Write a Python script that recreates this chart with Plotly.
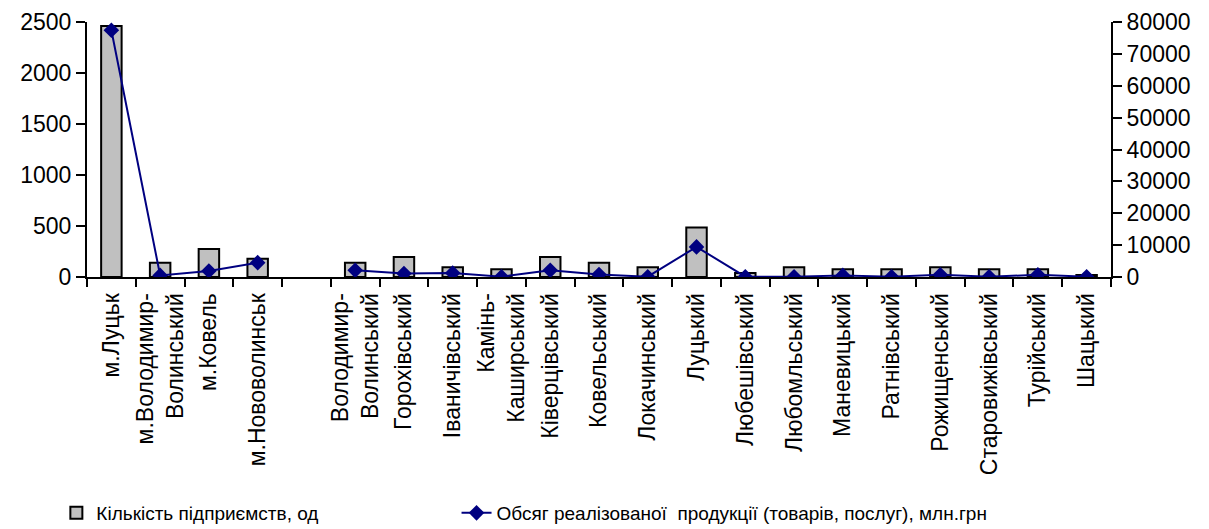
import plotly.graph_objects as go

categories = [
    "м.Луцьк", "м.Володимир-<br>Волинський", "м.Ковель", "м.Нововолинськ", " ",
    "Володимир-<br>Волинський", "Горохівський", "Іваничівський", "Камінь-<br>Каширський",
    "Ківерцівський", "Ковельський", "Локачинський", "Луцький", "Любешівський",
    "Любомльський", "Маневицький", "Ратнівський", "Рожищенський", "Старовижівський",
    "Турійський", "Шацький",
]
enterprises = [2460, 140, 275, 180, None, 140, 195, 95, 75, 195, 140, 95, 485, 40,
               95, 75, 75, 95, 75, 75, 20]
sales = [77400, 500, 1900, 4500, None, 2100, 1100, 1250, 100, 2100, 750, 100, 9450,
         100, 100, 500, 100, 700, 100, 700, 100]

left_ticks = [0, 500, 1000, 1500, 2000, 2500]
right_ticks = [0, 10000, 20000, 30000, 40000, 50000, 60000, 70000, 80000]

font_main = "Liberation Sans, Arial, sans-serif"

fig = go.Figure()
fig.add_trace(go.Bar(
    x=categories, y=enterprises, name="Кількість підприємств, од",
    marker=dict(color="#C0C0C0", line=dict(color="black", width=2)),
    yaxis="y", legend="legend",
))
fig.add_trace(go.Scatter(
    x=categories, y=sales, name="Обсяг реалізованої  продукції (товарів, послуг), млн.грн",
    mode="lines+markers", connectgaps=False,
    line=dict(color="#000080", width=2),
    marker=dict(symbol="diamond", size=12, color="#000080"),
    yaxis="y2", legend="legend2",
))

legend_font = dict(family=font_main, size=19, color="black")

fig.update_layout(
    width=1209, height=529,
    margin=dict(l=79, r=106, t=14, b=260, autoexpand=False),
    paper_bgcolor="white", plot_bgcolor="white",
    font=dict(family=font_main, size=23, color="black"),
    bargap=0.58,
    showlegend=True,
    legend=dict(
        orientation="h", xref="container", yref="container",
        x=0.040, y=0.0454, xanchor="left", yanchor="middle",
        font=legend_font, bgcolor="rgba(0,0,0,0)",
    ),
    legend2=dict(
        orientation="h", xref="container", yref="container",
        x=0.371, y=0.0454, xanchor="left", yanchor="middle",
        font=legend_font, bgcolor="rgba(0,0,0,0)",
    ),
    xaxis=dict(
        type="category", categoryorder="array", categoryarray=categories,
        range=[-0.5, len(categories) - 0.5],
        tickangle=-90, showline=True, linecolor="black", linewidth=2,
        ticks="outside", tickson="boundaries", ticklen=8, tickwidth=2, tickcolor="black",
        showgrid=False, zeroline=False, ticklabelstandoff=5, automargin=False,
    ),
    yaxis=dict(
        range=[0, 2500], tickvals=left_ticks, showline=True, linecolor="black", linewidth=2,
        ticks="outside", ticklen=9, tickwidth=2, tickcolor="black",
        showgrid=False, zeroline=False, automargin=False,
    ),
    yaxis2=dict(
        range=[0, 80000], tickvals=right_ticks, tickformat="d", overlaying="y", side="right",
        showline=True, linecolor="black", linewidth=2,
        ticks="outside", ticklen=9, tickwidth=2, tickcolor="black",
        showgrid=False, zeroline=False, automargin=False,
    ),
)

fig.write_html("out.html")
